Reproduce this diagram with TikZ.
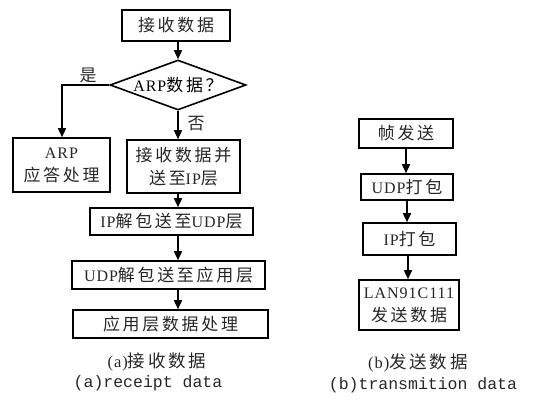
\documentclass[tikz,border=0pt]{standalone}
\usepackage{fontspec}
\setmainfont{Liberation Serif}[LetterSpace=6]
\newfontfamily\cjk{Noto Sans CJK SC}[LetterSpace=16,Scale=1.06]
\newfontfamily\monof{Liberation Mono}
\usetikzlibrary{shapes.geometric,arrows.meta}
\newcommand\zh[1]{{\cjk #1}}
\tikzset{
  box/.style={draw, line width=1.6pt, inner sep=0pt, align=center,
    font=\fontsize{16}{23}\selectfont, text=black!85},
  dia/.style={draw, diamond, line width=1.6pt, inner sep=0pt, aspect=2.72,
    minimum width=136pt, minimum height=50pt, font=\fontsize{16}{20}\selectfont},
  arr/.style={line width=1.6pt, -{Triangle[length=9pt,width=8pt]}},
  lbl/.style={inner sep=0pt, font=\fontsize{16}{20}\selectfont, text=black!85},
  captext/.style={inner sep=0pt, font=\fontsize{16.5}{20}\selectfont, text=black!85}
}
\begin{document}
\begin{tikzpicture}[x=1pt,y=-1pt]
\useasboundingbox (0,0) rectangle (536,402);
% left flow
\node[box, minimum width=108pt, minimum height=31pt] (r1) at (176,25.5) {\zh{接收数据}};
\node[dia] (d) at (178,85) {ARP\zh{数据？}};
\node[box, minimum width=97pt, minimum height=54pt] (a1) at (61.5,165) {ARP\\\zh{应答处理}};
\node[box, minimum width=113pt, minimum height=53pt] (a2) at (183.5,166.5) {\zh{接收数据并}\\\zh{送至}IP\zh{层}};
\node[box, minimum width=163pt, minimum height=27pt] (a3) at (171.5,221.5) {IP\zh{解包送至}UDP\zh{层}};
\node[box, minimum width=193pt, minimum height=28pt] (a4) at (168.5,275) {UDP\zh{解包送至应用层}};
\node[box, minimum width=195pt, minimum height=28pt] (a5) at (170.5,324) {\zh{应用层数据处理}};
\coordinate (yc) at (62,85);
\draw[arr] (r1.south -| d.center) -- (d.north);
\draw[arr] (d.west) -- (yc) -- (a1.north -| yc);
\draw[arr] (d.south) -- (a2.north -| d.center);
\draw[arr] (a2.south -| d.center) -- (a3.north -| d.center);
\draw[arr] (a3.south -| d.center) -- (a4.north -| d.center);
\draw[arr] (a4.south -| d.center) -- (a5.north -| d.center);
\node[lbl] (yes) at (88,75) {\zh{是}};
\node[lbl] (no) at (196,124) {\zh{否}};
% right flow
\node[box, minimum width=94pt, minimum height=29pt] (b1) at (406,133.5) {\zh{帧发送}};
\node[box, minimum width=92pt, minimum height=26pt] (b2) at (407,187) {UDP\zh{打包}};
\node[box, minimum width=93pt, minimum height=32pt] (b3) at (409.5,239) {IP\zh{打包}};
\node[box, minimum width=100pt, minimum height=50pt] (b4) at (409,305) {LAN91C111\\\zh{发送数据}};
\coordinate (bx) at (408,0);
\draw[arr] (b1.south) -- (b2.north -| b1.south);
\draw[arr] (b2.south) -- (b3.north -| b2.south);
\draw[arr] (b3.south -| bx) -- (b4.north -| bx);
% captions
\node[captext] (ca1) at (157,362) {(a)\zh{接收数据}};
\node[captext] (ca2) at (148,383) {\monof(a)receipt data};
\node[captext] (cb1) at (418,363) {(b)\zh{发送数据}};
\node[captext] (cb2) at (423,385) {\monof(b)transmition data};
\end{tikzpicture}
\end{document}
